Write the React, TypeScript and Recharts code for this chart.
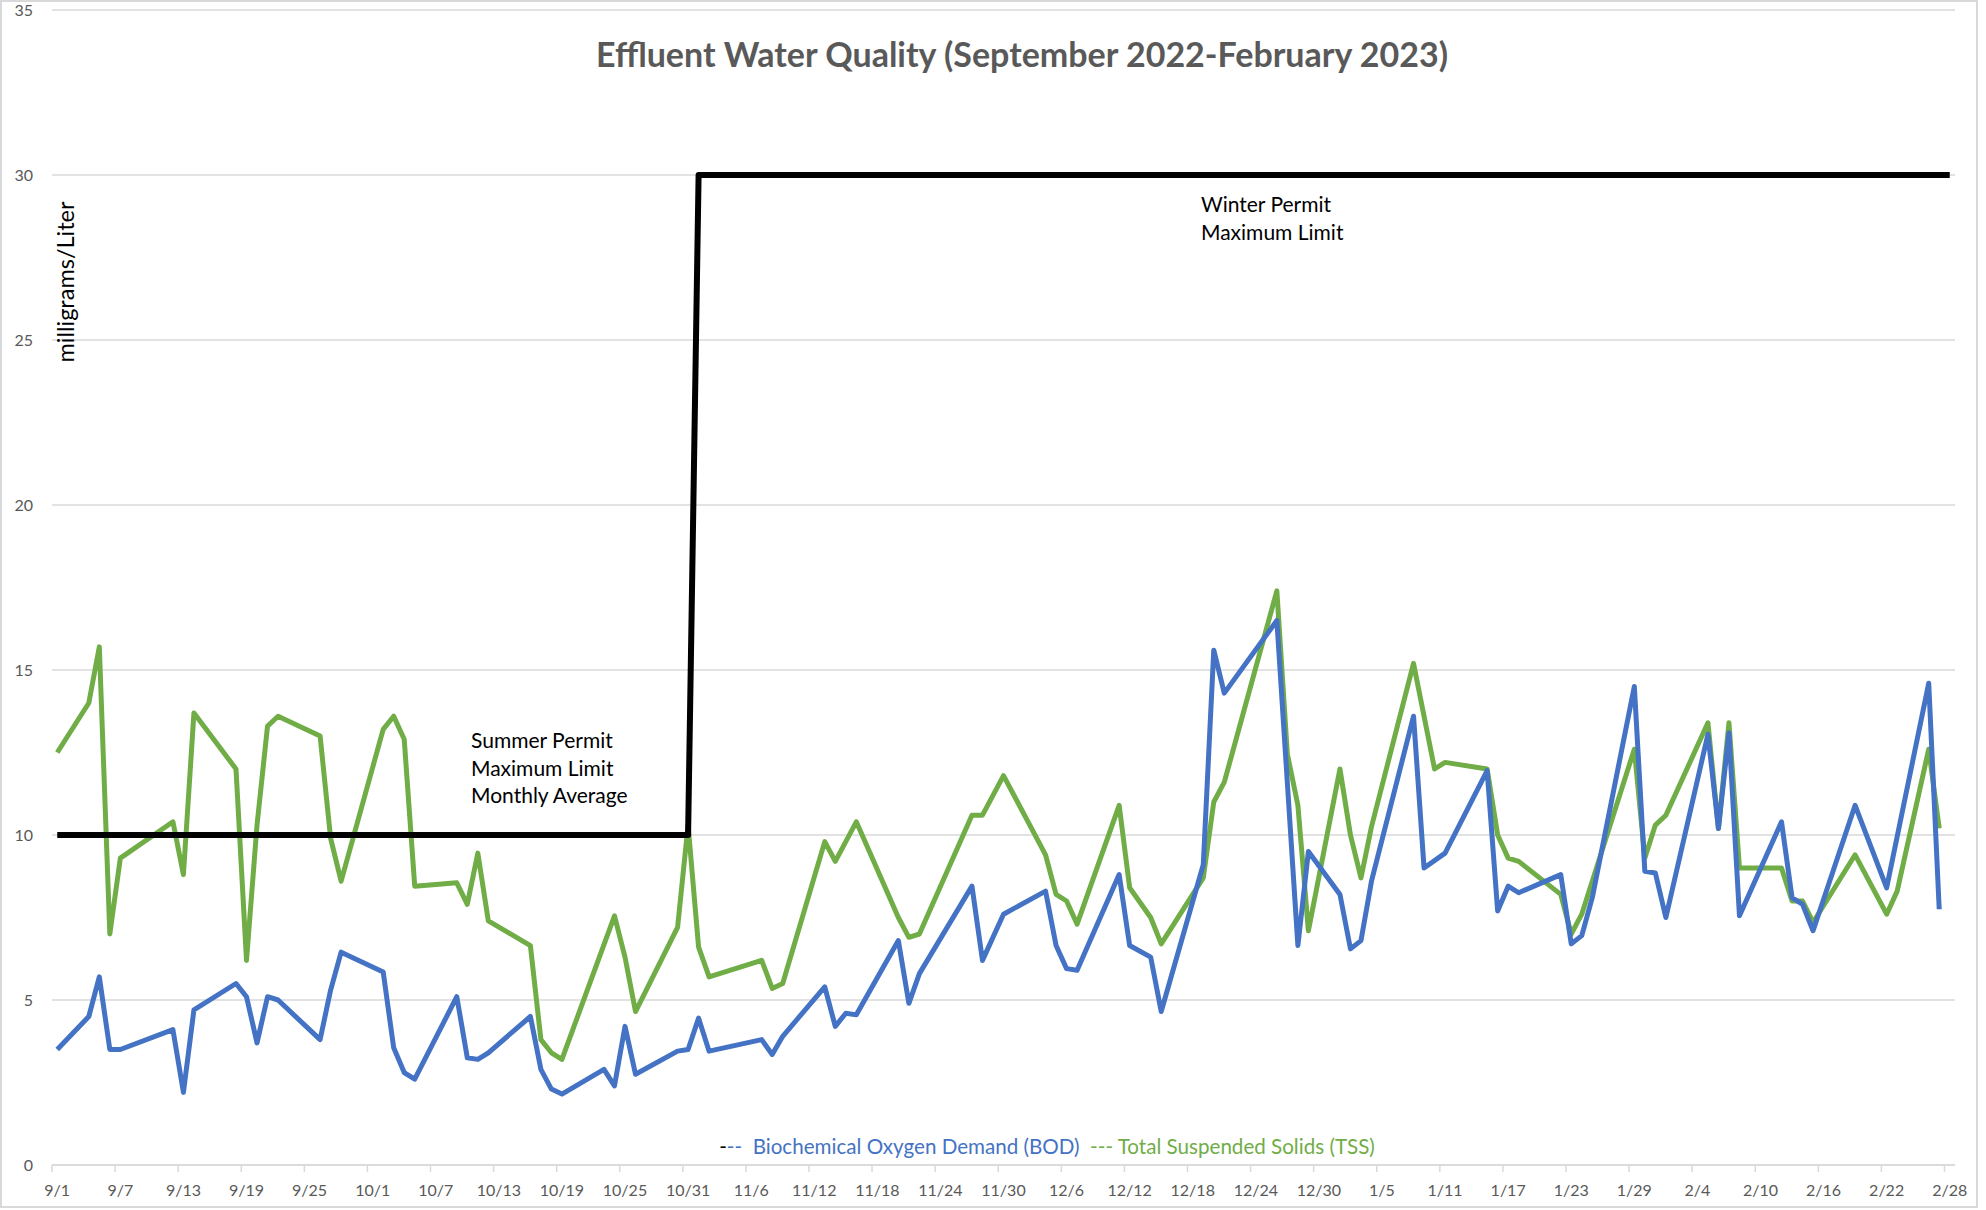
import { LineChart, Line, XAxis, YAxis, CartesianGrid } from "recharts";

// days counted from 9/1/2022
const sampleDays = [
  0, 3, 4, 5, 6, 11, 12, 13, 17, 18, 19, 20, 21, 25, 26, 27, 31, 32, 33, 34,
  38, 39, 40, 41, 45, 46, 47, 48, 52, 53, 54, 55, 59, 60, 61, 62, 67, 68, 69,
  73, 74, 75, 76, 80, 81, 82, 87, 88, 90, 94, 95, 96, 97, 101, 102, 104, 105,
  109, 110, 111, 116, 117, 118, 119, 122, 123, 124, 125, 129, 130, 131, 132,
  136, 137, 138, 139, 143, 144, 145, 146, 150, 151, 152, 153, 157, 158, 159,
  160, 164, 165, 166, 167, 171, 174, 175, 178, 179,
];

const bodValues = [
  3.5, 4.5, 5.7, 3.5, 3.5, 4.1, 2.2, 4.7, 5.5, 5.1, 3.7, 5.1, 5.0, 3.8, 5.3, 6.45, 5.85, 3.55, 2.8, 2.6,
  5.1, 3.25, 3.2, 3.4, 4.5, 2.9, 2.3, 2.15, 2.9, 2.4, 4.2, 2.75, 3.45, 3.5, 4.45, 3.45, 3.8, 3.35, 3.9,
  5.4, 4.2, 4.6, 4.55, 6.8, 4.9, 5.8, 8.45, 6.2, 7.6, 8.3, 6.65, 5.95, 5.9, 8.8, 6.65, 6.3, 4.65,
  9.1, 15.6, 14.3, 16.5, null, 6.65, 9.5, 8.2, 6.55, 6.8, 8.6, 13.6, 9.0, null, 9.45,
  11.95, 7.7, 8.45, 8.25, 8.8, 6.7, 6.95, 8.1, 14.5, 8.9, 8.85, 7.5, 13.05, 10.2, 13.1,
  7.55, 10.4, 8.1, 7.9, 7.1, 10.9, 8.4, null, 14.6, 7.75,
];

const tssValues = [
  12.5, 14.0, 15.7, 7.0, 9.3, 10.4, 8.8, 13.7, 12.0, 6.2, 10.3, 13.3, 13.6, 13.0, 9.9, 8.6, 13.2, 13.6, 12.9, 8.45,
  8.55, 7.9, 9.45, 7.4, 6.65, 3.8, 3.4, 3.2, null, 7.55, 6.3, 4.65, 7.2, 10.3, 6.6, 5.7, 6.2, 5.35, 5.5,
  9.8, 9.2, null, 10.4, 7.5, 6.9, 7.0, 10.6, 10.6, 11.8, 9.4, 8.2, 8.0, 7.3, 10.9, 8.4, 7.5, 6.7,
  8.7, 11.0, 11.6, 17.4, 12.45, 10.9, 7.1, 12.0, 10.0, 8.7, 10.25, 15.2, 13.6, 12.0, 12.2,
  12.0, 10.0, 9.3, 9.2, 8.2, 7.0, 7.6, null, 12.6, 9.3, 10.3, 10.6, 13.4, 10.2, 13.4,
  9.0, 9.0, 8.0, 8.0, 7.35, 9.4, 7.6, 8.3, 12.6, 10.2,
];

// summer limit (monthly average) through 10/31, winter limit afterwards
const permitDays = [0, 60, 61, 180];
const permitLimits = [10, 10, 30, 30];

const tickLabels = [
  "9/1", "9/7", "9/13", "9/19", "9/25", "10/1", "10/7", "10/13", "10/19", "10/25", "10/31",
  "11/6", "11/12", "11/18", "11/24", "11/30", "12/6", "12/12", "12/18", "12/24", "12/30",
  "1/5", "1/11", "1/17", "1/23", "1/29", "2/4", "2/10", "2/16", "2/22", "2/28",
];
const tickDays = tickLabels.map((_, i) => i * 6);
const yTicks = [0, 5, 10, 15, 20, 25, 30, 35];

const rows = sampleDays.map((day, i) => ({ day, bod: bodValues[i], tss: tssValues[i] }));
const permitRows = permitDays.map((day, i) => ({ day, limit: permitLimits[i] }));

const FONT = "Lato, 'Open Sans', sans-serif";
const BLUE = "#4472C4";
const GREEN = "#70AD47";
const GRID = "#D9D9D9";
const HALF_DAY = 5.25;

const DateTick = (props: any) => {
  const { x, y, payload } = props;
  const label = tickLabels[Math.round(payload.value / 6)];
  return (
    <g>
      <line x1={x - HALF_DAY} x2={x - HALF_DAY} y1={y} y2={y + 7} stroke={GRID} strokeWidth={1.5} />
      <text x={x} y={y + 31} textAnchor="middle" fill="#595959" fontSize={16} fontFamily={FONT}>
        {label}
      </text>
    </g>
  );
};

const App = () => {
  return (
    <div
      style={{
        position: "absolute",
        left: 0,
        top: 0,
        width: 1986,
        height: 1210,
        background: "#fff",
        overflow: "hidden",
        fontFamily: FONT,
      }}
    >
      <div
        style={{
          position: "absolute",
          left: 0,
          top: 0,
          width: 1974,
          height: 1204,
          border: `2px solid ${GRID}`,
        }}
      />
      <LineChart width={1986} height={1210} margin={{ top: 10, right: 31, bottom: 0, left: 0 }}>
        <CartesianGrid vertical={false} stroke={GRID} strokeWidth={1.5} />
        <XAxis
          type="number"
          dataKey="day"
          domain={[-0.5, 180.5]}
          ticks={tickDays}
          interval={0}
          height={45}
          tickSize={0}
          tickMargin={0}
          axisLine={{ stroke: GRID, strokeWidth: 1.5 }}
          tickLine={false}
          tick={<DateTick />}
        />
        <YAxis
          type="number"
          domain={[0, 35]}
          ticks={yTicks}
          width={52}
          axisLine={false}
          tickLine={false}
          tickSize={0}
          tickMargin={19}
          tick={{ fill: "#595959", fontSize: 16, fontFamily: FONT }}
        />
        <Line
          data={rows}
          dataKey="tss"
          stroke={GREEN}
          strokeWidth={5}
          strokeLinejoin="round"
          dot={false}
          activeDot={false}
          connectNulls
          isAnimationActive={false}
        />
        <Line
          data={rows}
          dataKey="bod"
          stroke={BLUE}
          strokeWidth={5}
          strokeLinejoin="round"
          dot={false}
          activeDot={false}
          connectNulls
          isAnimationActive={false}
        />
        <Line
          data={permitRows}
          dataKey="limit"
          stroke="#000"
          strokeWidth={6}
          strokeLinejoin="round"
          dot={false}
          activeDot={false}
          isAnimationActive={false}
        />
      </LineChart>

      <div
        style={{
          position: "absolute",
          left: 1022,
          top: 53,
          transform: "translate(-50%, -50%)",
          whiteSpace: "nowrap",
          fontSize: 34,
          fontWeight: 700,
          color: "#595959",
        }}
      >
        Effluent Water Quality (September 2022-February 2023)
      </div>

      <div
        style={{
          position: "absolute",
          left: 65,
          top: 282,
          transform: "translate(-50%, -50%) rotate(-90deg)",
          whiteSpace: "nowrap",
          fontSize: 23.5,
          color: "#000",
        }}
      >
        milligrams/Liter
      </div>

      <div
        style={{
          position: "absolute",
          left: 471,
          top: 726,
          fontSize: 21,
          lineHeight: "27.5px",
          color: "#000",
          whiteSpace: "nowrap",
        }}
      >
        Summer Permit
        <br />
        Maximum Limit
        <br />
        Monthly Average
      </div>

      <div
        style={{
          position: "absolute",
          left: 1201,
          top: 190,
          fontSize: 21,
          lineHeight: "27.5px",
          color: "#000",
          whiteSpace: "nowrap",
        }}
      >
        Winter Permit
        <br />
        Maximum Limit
      </div>

      <div
        style={{
          position: "absolute",
          left: 1047,
          top: 1146,
          transform: "translate(-50%, -50%)",
          whiteSpace: "nowrap",
          fontSize: 20.6,
        }}
      >
        <span style={{ color: "#000" }}>-</span>
        <span style={{ color: BLUE }}>--&nbsp; Biochemical Oxygen Demand (BOD)</span>
        <span style={{ color: GREEN }}>&nbsp; --- Total Suspended Solids (TSS)</span>
      </div>
    </div>
  );
};

export default App;
